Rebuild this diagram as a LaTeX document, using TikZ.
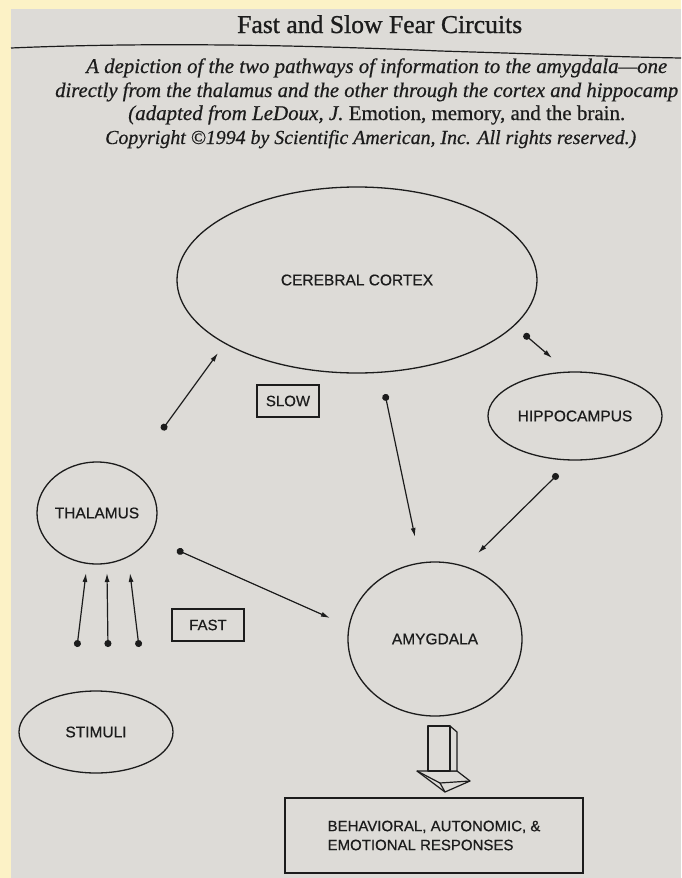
\documentclass[tikz,border=0pt]{standalone}
\usepackage{fontspec}
\setmainfont{Liberation Serif}
\setsansfont{Liberation Sans}
\usetikzlibrary{arrows.meta,shapes.geometric}
\definecolor{pagebg}{RGB}{221,219,215}
\definecolor{edgebg}{RGB}{252,242,198}
\definecolor{ink}{RGB}{28,28,28}
\begin{document}
\begin{tikzpicture}[x=1pt,y=-1pt,
  region/.style={draw=ink, line width=1.3pt, ellipse, inner sep=0pt, text=ink,
    font=\sffamily\fontsize{15.5}{18}\selectfont\addfontfeature{FakeBold=0.6}},
  tagbox/.style={draw=ink, line width=1.1pt, rectangle, inner sep=0pt, text=ink,
    font=\sffamily\fontsize{15}{18}\selectfont\addfontfeature{FakeBold=0.6}},
  link/.style={draw=ink, line width=1.2pt, {Circle[length=7pt]}-{Latex[length=9pt,width=5pt]}},
  captxt/.style={anchor=base west, inner sep=0pt, text=ink},
  blk/.style={draw=ink, line width=1.2pt, line join=round, fill=pagebg},
]
\useasboundingbox (0,0) rectangle (681,878);
% background: photographed page
\fill[edgebg] (0,0) rectangle (681,878);
\fill[pagebg] (11,9) rectangle (681,878);

% title and caption
\node[captxt] (title) at (237,33) {\resizebox{285pt}{!}{\fontsize{25}{30}\selectfont\addfontfeature{FakeBold=1} Fast and Slow Fear Circuits}};
\draw[ink, line width=1.2pt] (11,48) .. controls (150,42) and (300,45) .. (440,51) .. controls (540,54) and (620,57) .. (681,58);
\node[captxt] (cap1) at (86,73) {\resizebox{581pt}{!}{\fontsize{19}{23}\selectfont\itshape\addfontfeature{FakeBold=0.6} A depiction of the two pathways of information to the amygdala—one}};
\node[captxt] (cap2) at (55,97) {\resizebox{623pt}{!}{\fontsize{19}{23}\selectfont\itshape\addfontfeature{FakeBold=0.6} directly from the thalamus and the other through the cortex and hippocamp}};
\node[captxt] (cap3) at (128,120) {\resizebox{497pt}{!}{\fontsize{19}{23}\selectfont\itshape\addfontfeature{FakeBold=0.6} (adapted from LeDoux, J. \upshape\addfontfeature{FakeBold=0.6} Emotion, memory, and the brain.}};
\node[captxt] (cap4) at (105,144) {\resizebox{531pt}{!}{\fontsize{19}{23}\selectfont\itshape\addfontfeature{FakeBold=0.6} Copyright ©1994 by Scientific American, Inc. All rights reserved.)}};

% regions
\node[region, minimum width=360pt, minimum height=186pt] (cortex) at (357,280) {\makebox[0pt]{CEREBRAL CORTEX}};
\node[region, minimum width=174pt, minimum height=88pt] (hippo) at (575,416) {\makebox[0pt]{HIPPOCAMPUS}};
\node[region, minimum width=120pt, minimum height=102pt] (thal) at (97,513) {\makebox[0pt]{THALAMUS}};
\node[region, minimum width=154pt, minimum height=82pt] (stim) at (96,732) {\makebox[0pt]{STIMULI}};
\node[region, minimum width=174pt, minimum height=154pt] (amyg) at (435,639) {\makebox[0pt]{AMYGDALA}};

% tags
\node[tagbox, minimum width=62pt, minimum height=32pt] (slow) at (288,401) {SLOW};
\node[tagbox, minimum width=72pt, minimum height=32pt] (fast) at (208,625) {FAST};
\node[tagbox, minimum width=298pt, minimum height=75pt, align=left] (resp) at (434,835.5)
  {BEHAVIORAL, AUTONOMIC, \&\\[1pt]EMOTIONAL RESPONSES};

% connector end points
\coordinate (tcA) at (162,430); \coordinate (tcB) at (218,353);
\coordinate (caA) at (385,394); \coordinate (caB) at (415,537);
\coordinate (chA) at (524,334); \coordinate (chB) at (552,358);
\coordinate (haA) at (558,474); \coordinate (haB) at (478,553);
\coordinate (taA) at (177,550); \coordinate (taB) at (330,618);
\coordinate (s1A) at (77,647);  \coordinate (s1B) at (86,573);
\coordinate (s2A) at (108,647); \coordinate (s2B) at (107,573);
\coordinate (s3A) at (139,647); \coordinate (s3B) at (130,573);

\draw[link] (tcA) -- (tcB);
\draw[link] (caA) -- (caB);
\draw[link] (chA) -- (chB);
\draw[link] (haA) -- (haB);
\draw[link] (taA) -- (taB);
\draw[link] (s1A) -- (s1B);
\draw[link] (s2A) -- (s2B);
\draw[link] (s3A) -- (s3B);

% 3-D block arrow from amygdala to responses
\draw[blk] (417,771) -- (457,771) -- (470,781) -- (445,792) -- cycle;
\draw[blk, fill=none] (417,771) -- (440,783) -- (470,781);
\draw[blk, fill=none] (440,783) -- (445,792);
\draw[blk] (450,726) -- (457,732) -- (457,771) -- (450,771) -- cycle;
\draw[blk] (428,726) rectangle (450,771);
\end{tikzpicture}
\end{document}
